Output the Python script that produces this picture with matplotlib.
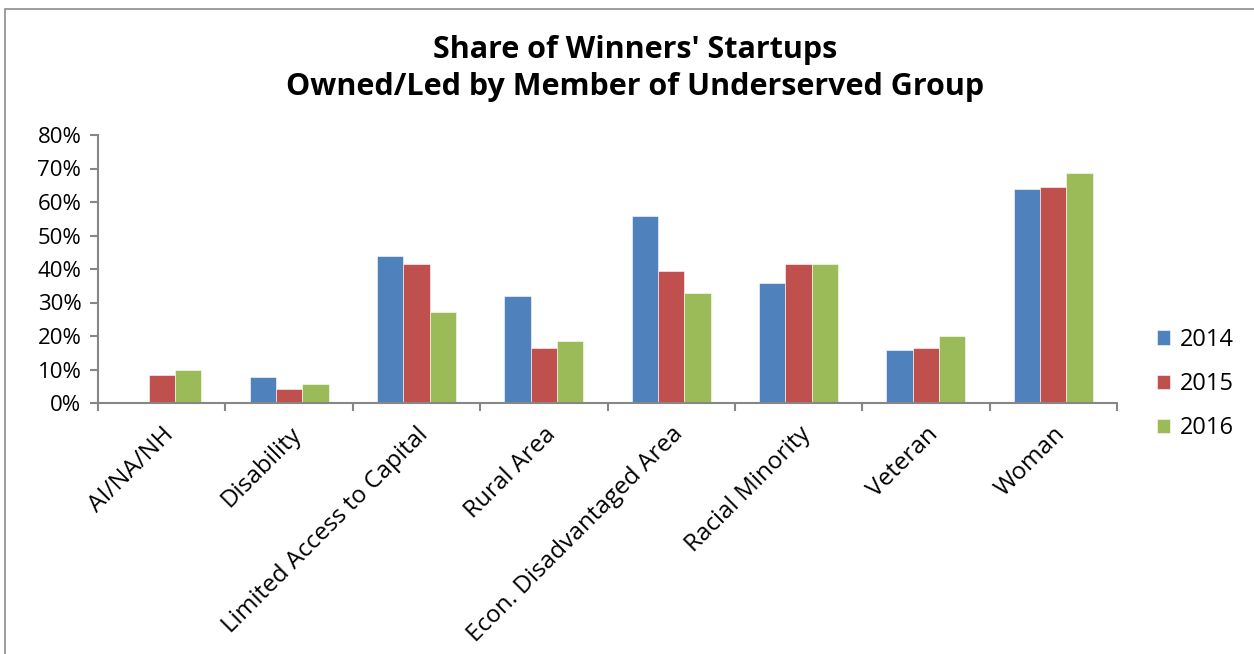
import matplotlib.pyplot as plt
import numpy as np
from matplotlib.patches import Rectangle

plt.rcParams['font.family'] = ['Open Sans', 'DejaVu Sans']

categories = ['AI/NA/NH', 'Disability', 'Limited Access to Capital', 'Rural Area',
              'Econ. Disadvantaged Area', 'Racial Minority', 'Veteran', 'Woman']
years = ['2014', '2015', '2016']
v2014 = [0.0, 7.9, 44.0, 32.0, 55.9, 35.9, 15.9, 64.0]
v2015 = [8.3, 4.1, 41.6, 16.5, 39.5, 41.6, 16.5, 64.5]
v2016 = [10.0, 5.6, 27.1, 18.4, 32.7, 41.4, 19.9, 68.6]
colors = ['#4f81bd', '#c0504d', '#9bbb59']

fig = plt.figure(figsize=(12.54, 6.54), dpi=100)
ax = fig.add_axes([98 / 1254, 1 - 403 / 654, (1117 - 98) / 1254, (403 - 135) / 654])

# outer chart border (cropped on right/bottom)
fig.patches.append(Rectangle((5 / 1254, -0.1), 1.2, 1 - 9 / 654 + 0.1, transform=fig.transFigure,
                             fill=False, edgecolor='#8c8c8c', linewidth=1.2))

x = np.arange(len(categories))
w = 0.207
for i, (vals, yr) in enumerate(zip([v2014, v2015, v2016], years)):
    ax.bar(x + (i - 1) * w, vals, width=w, color=colors[i], label=yr,
           edgecolor='white', linewidth=0.4)

ax.set_xlim(-0.5, len(categories) - 0.5)
ax.set_ylim(0, 80)
ax.set_yticks(range(0, 81, 10))
ax.set_yticklabels([f'{t}%' for t in range(0, 81, 10)], fontsize=16)
ax.set_xticks(x)
ax.set_xticklabels(categories, rotation=45, ha='right', va='top', rotation_mode='anchor', fontsize=17.5)
ax.set_xticks(np.arange(-0.5, len(categories), 1), minor=True)
ax.tick_params(axis='x', which='major', length=0, pad=14)
ax.tick_params(axis='x', which='minor', length=6, width=1.5, color='#868686', direction='out')
ax.tick_params(axis='y', length=6, width=1.5, color='#868686', pad=6)

for s in ['top', 'right']:
    ax.spines[s].set_visible(False)
for s in ['left', 'bottom']:
    ax.spines[s].set_color('#868686')
    ax.spines[s].set_linewidth(1.5)

fig.text(635 / 1254, 1 - 58 / 654, "Share of Winners' Startups", ha='center', va='baseline',
         fontsize=22, fontweight='bold')
fig.text(635 / 1254, 1 - 95 / 654, 'Owned/Led by Member of Underserved Group', ha='center', va='baseline',
         fontsize=22, fontweight='bold')

ax.legend(loc='center left', bbox_to_anchor=(1157 / 1254, 1 - 384 / 654), bbox_transform=fig.transFigure,
          frameon=False, fontsize=17, handlelength=0.55, handleheight=0.55, labelspacing=0.85,
          handletextpad=0.4, borderpad=0, borderaxespad=0)

fig.savefig('out.png', dpi=100)
